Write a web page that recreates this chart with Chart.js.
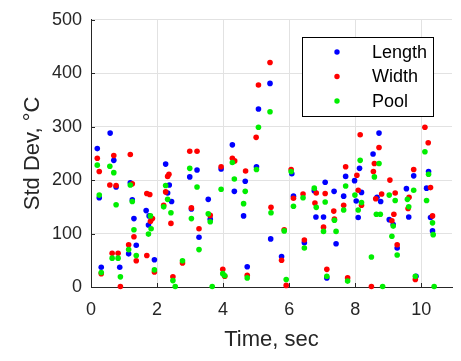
<!DOCTYPE html>
<html>
<head>
<meta charset="utf-8">
<script src="https://cdn.jsdelivr.net/npm/chart.js@4"></script>
<style>
  html, body { margin: 0; padding: 0; background: #fff; }
  #wrap { width: 461px; height: 361px; }
</style>
</head>
<body>
<div id="wrap"><canvas id="chartStd"></canvas></div>
<script>
// Std dev readings, [time (sec), value (°C)] per series
const lengthPts = [[0.19,259],[0.25,167],[0.31,37],[0.58,288],[0.69,237],[0.76,187],[0.87,37],[1.14,62],[1.19,195],[1.25,163],[1.30,128],[1.37,78],[1.67,143],[1.74,116],[1.76,133],[1.92,51],[2.26,230],[2.32,176],[2.37,191],[2.44,160],[2.99,206],[3.04,146],[3.21,219],[3.27,93],[3.55,164],[3.61,127],[3.94,221],[4.28,266],[4.34,179],[4.62,133],[4.67,198],[4.73,38],[5.01,225],[5.07,333],[5.42,381],[5.44,90],[5.77,57],[6.08,212],[6.13,170],[6.46,83],[6.76,180],[6.81,131],[7.04,131],[7.09,196],[7.14,17],[7.36,179],[7.42,81],[7.65,170],[7.71,207],[7.98,199],[8.03,161],[8.09,130],[8.13,222],[8.19,177],[8.54,249],[8.66,168],[8.72,288],[8.77,160],[9.03,126],[9.15,117],[9.27,73],[9.55,184],[9.62,131],[9.77,208],[9.84,20],[10.16,185],[10.22,216],[10.28,130],[10.34,105]];
const widthPts = [[0.19,241],[0.25,216],[0.31,25],[0.57,191],[0.64,63],[0.69,246],[0.76,190],[0.82,63],[0.89,1],[1.14,79],[1.19,248],[1.25,193],[1.30,94],[1.37,49],[1.69,175],[1.69,59],[1.78,173],[1.80,123],[1.86,128],[1.92,28],[2.20,153],[2.26,178],[2.32,207],[2.36,211],[2.42,119],[2.48,19],[2.77,45],[2.99,254],[3.04,148],[3.21,254],[3.27,109],[3.61,134],[3.94,225],[3.99,33],[4.05,20],[4.28,241],[4.35,236],[4.68,217],[4.73,22],[5.00,280],[5.07,378],[5.42,420],[5.45,149],[5.77,50],[5.85,107],[5.91,3],[6.06,220],[6.13,166],[6.42,174],[6.46,88],[6.78,157],[6.82,176],[7.04,112],[7.09,175],[7.14,33],[7.35,142],[7.37,127],[7.65,153],[7.71,225],[7.77,17],[8.05,209],[8.09,181],[8.15,285],[8.19,153],[8.49,1],[8.55,216],[8.58,231],[8.62,165],[8.72,261],[8.80,174],[9.05,200],[9.11,124],[9.17,136],[9.21,176],[9.27,79],[9.60,147],[9.63,168],[9.77,220],[9.82,14],[10.11,299],[10.21,270],[10.28,186],[10.34,133]];
const poolPts = [[0.19,228],[0.25,172],[0.31,27],[0.57,226],[0.64,54],[0.69,214],[0.76,154],[0.82,54],[0.89,19],[1.14,70],[1.19,191],[1.25,160],[1.30,107],[1.37,59],[1.74,99],[1.80,133],[1.82,109],[1.92,32],[2.20,150],[2.26,190],[2.32,164],[2.42,139],[2.48,12],[2.55,1],[2.77,49],[2.99,222],[3.04,128],[3.21,187],[3.27,70],[3.55,137],[3.61,122],[3.67,1],[3.94,183],[3.99,25],[4.05,21],[4.28,233],[4.34,202],[4.62,156],[4.67,179],[4.73,17],[5.01,220],[5.07,299],[5.42,328],[5.45,139],[5.85,105],[5.91,14],[6.06,216],[6.13,151],[6.42,167],[6.46,73],[6.76,185],[6.82,149],[7.04,104],[7.09,159],[7.14,20],[7.37,125],[7.42,104],[7.65,144],[7.71,189],[7.77,11],[7.99,172],[8.09,144],[8.15,237],[8.19,158],[8.49,56],[8.58,206],[8.64,136],[8.72,231],[8.76,136],[8.83,1],[9.03,172],[9.11,95],[9.15,114],[9.21,162],[9.27,60],[9.58,164],[9.62,150],[9.77,181],[9.82,20],[10.11,253],[10.16,162],[10.22,211],[10.34,120],[10.36,98],[10.39,1]];

const seriesNames = ['Length', 'Width', 'Pool'];
const seriesColors = ['#0000ff', '#ff0000', '#00ee00'];
const xTicks = [0, 2, 4, 6, 8, 10];
const yTicks = [0, 100, 200, 300, 400, 500];

const ink = '#262626';
const fontFam = '"Liberation Sans", Arial, sans-serif';

function toXY(pts) {
    return pts.map(p => ({ x: p[0], y: p[1] }));
}

// MATLAB-like inward tick marks + boxed legend inside the axes
const extras = {
    id: 'extras',
    afterDraw(chart) {
        const ctx = chart.ctx;
        const xs = chart.scales.x, ys = chart.scales.y;
        const area = chart.chartArea;
        ctx.save();
        ctx.strokeStyle = ink;
        ctx.lineWidth = 1;
        ctx.beginPath();
        xTicks.forEach(v => {
            const px = Math.round(xs.getPixelForValue(v)) + 0.5;
            ctx.moveTo(px, area.bottom);
            ctx.lineTo(px, area.bottom - 4);
        });
        yTicks.forEach(v => {
            const py = Math.round(ys.getPixelForValue(v)) + 0.5;
            ctx.moveTo(area.left, py);
            ctx.lineTo(area.left + 4, py);
        });
        ctx.stroke();

        // legend box
        const bx = 302, by = 37, bw = 131, bh = 79;
        ctx.fillStyle = '#fff';
        ctx.fillRect(bx, by, bw, bh);
        ctx.strokeStyle = '#000';
        ctx.strokeRect(bx + 0.5, by + 0.5, bw, bh);
        ctx.font = '18px ' + fontFam;
        ctx.textBaseline = 'middle';
        seriesNames.forEach((name, i) => {
            const cy = by + 15 + i * 24.5;
            ctx.fillStyle = seriesColors[i];
            ctx.beginPath();
            ctx.arc(337, cy, 2.7, 0, Math.PI * 2);
            ctx.fill();
            ctx.fillStyle = '#000';
            ctx.fillText(name, 372, cy + 1);
        });
        ctx.restore();
    }
};

const ctxStd = document.getElementById('chartStd').getContext('2d');
const chartStd = new Chart(ctxStd, {
    type: 'scatter',
    data: {
        datasets: [lengthPts, widthPts, poolPts].map((pts, i) => ({
            label: seriesNames[i],
            data: toXY(pts),
            backgroundColor: seriesColors[i],
            borderWidth: 0,
            pointRadius: 2.8,
            clip: false,
            order: 3 - i
        }))
    },
    options: {
        responsive: true,
        maintainAspectRatio: false,
        animation: false,
        layout: { padding: { top: 17, right: 9, left: 0, bottom: 0 } },
        plugins: {
            legend: { display: false },
            tooltip: { enabled: false }
        },
        scales: {
            x: {
                type: 'linear',
                min: 0,
                max: 10.93,
                afterFit: s => { s.height = 74; },
                afterBuildTicks: s => { s.ticks = xTicks.map(v => ({ value: v })); },
                ticks: { font: { size: 18, family: fontFam }, color: ink, padding: 12, maxRotation: 0 },
                grid: { color: '#e2e2e2', drawTicks: false },
                border: { color: ink },
                title: {
                    display: true,
                    text: 'Time, sec',
                    color: ink,
                    font: { size: 22, family: fontFam },
                    padding: { top: 0, bottom: 8 }
                }
            },
            y: {
                min: 0,
                max: 500,
                afterFit: s => { s.width = 91; },
                afterBuildTicks: s => { s.ticks = yTicks.map(v => ({ value: v })); },
                ticks: { font: { size: 18, family: fontFam }, color: ink, padding: 9 },
                grid: { color: '#e2e2e2', drawTicks: false },
                border: { color: ink },
                title: {
                    display: true,
                    text: 'Std Dev, °C',
                    color: ink,
                    font: { size: 22, family: fontFam },
                    padding: { top: 20, bottom: 0 }
                }
            }
        }
    },
    plugins: [extras]
});
</script>
</body>
</html>
